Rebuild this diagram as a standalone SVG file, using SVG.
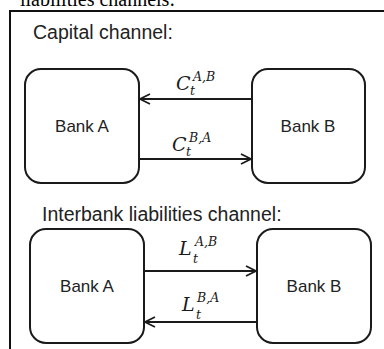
<svg xmlns="http://www.w3.org/2000/svg" width="384" height="349" viewBox="0 0 384 349">
  <defs>
    <marker id="arr" viewBox="0 0 12 12" refX="11" refY="6" markerWidth="12" markerHeight="12" markerUnits="userSpaceOnUse" orient="auto">
      <path d="M1,1 L11,6 L1,11" fill="none" stroke="#1a1a1a" stroke-width="1.8"/>
    </marker>
  </defs>
  <style>
    .box{fill:#fff;stroke:#1a1a1a;stroke-width:2}
    .frame{fill:none;stroke:#111;stroke-width:2}
    .lbl{font-family:"Liberation Sans",Arial,sans-serif;font-size:17px;fill:#222;text-anchor:middle}
    .head{font-family:"Liberation Sans",Arial,sans-serif;font-size:19.5px;fill:#222}
    .top{font-family:"Liberation Serif","Times New Roman",serif;font-size:20px;fill:#000}
    .m{font-family:"DejaVu Serif","Liberation Serif",serif;font-style:italic;fill:#1a1a1a}
    .big{font-size:19px}
    .sm{font-size:12.5px}
    .conn{stroke:#1a1a1a;stroke-width:2;fill:none;marker-end:url(#arr)}
  </style>
  <rect width="384" height="349" fill="#fff"/>
  <text class="top" x="20" y="6">liabilities channels:</text>
  <path class="frame" d="M10,349 V11 H386"/>
  <text class="head" x="33" y="39">Capital channel:</text>
  <text class="head" x="42" y="221">Interbank liabilities channel:</text>

  <g id="bankA1">
    <rect class="box" x="25" y="69" width="114" height="114" rx="16"/>
    <text class="lbl" x="82" y="132">Bank A</text>
  </g>
  <g id="bankB1">
    <rect class="box" x="252" y="69" width="113" height="114" rx="16"/>
    <text class="lbl" x="308" y="132">Bank B</text>
  </g>
  <g id="bankA2">
    <rect class="box" x="30" y="229" width="114" height="114" rx="16"/>
    <text class="lbl" x="87" y="292">Bank A</text>
  </g>
  <g id="bankB2">
    <rect class="box" x="257" y="229" width="114" height="114" rx="16"/>
    <text class="lbl" x="314" y="292">Bank B</text>
  </g>

  <g id="connectors">
    <line class="conn" x1="252" y1="99" x2="140" y2="99"/>
    <line class="conn" x1="139" y1="159" x2="251" y2="159"/>
    <line class="conn" x1="144" y1="271" x2="256" y2="271"/>
    <line class="conn" x1="257" y1="322" x2="145" y2="322"/>
  </g>

  <g id="labels">
    <text class="m big" x="176" y="90">C</text>
    <text class="m sm" x="193" y="81">A,B</text>
    <text class="m sm" x="190" y="95">t</text>

    <text class="m big" x="172" y="151">C</text>
    <text class="m sm" x="189" y="142">B,A</text>
    <text class="m sm" x="186" y="156">t</text>

    <text class="m big" x="179" y="255">L</text>
    <text class="m sm" x="195" y="246">A,B</text>
    <text class="m sm" x="193" y="263">t</text>

    <text class="m big" x="182" y="311">L</text>
    <text class="m sm" x="197" y="302">B,A</text>
    <text class="m sm" x="196" y="319">t</text>
  </g>
</svg>
